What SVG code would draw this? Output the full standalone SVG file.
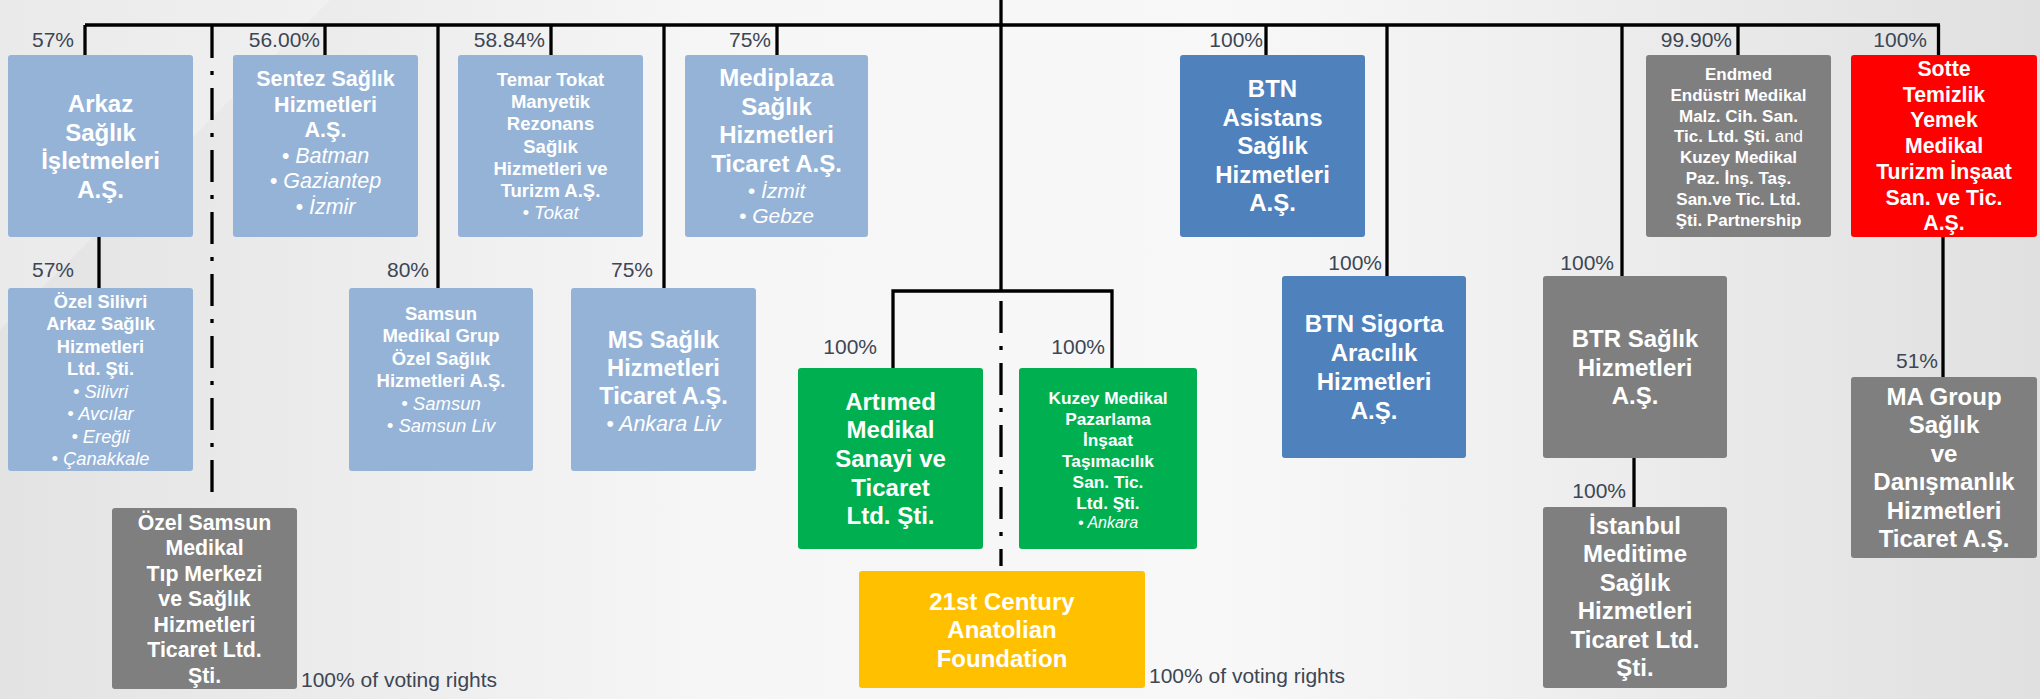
<svg xmlns="http://www.w3.org/2000/svg" width="2040" height="699" viewBox="0 0 2040 699">
<defs>
<linearGradient id="bg" x1="0" y1="0" x2="1" y2="0">
<stop offset="0" stop-color="#e3e3e3"/>
<stop offset="0.35" stop-color="#f6f6f6"/>
<stop offset="0.6" stop-color="#f8f8f8"/>
<stop offset="1" stop-color="#e0e0e0"/>
</linearGradient>
</defs>
<style>
.box{stroke:none}
.lb{fill:#95b3d7}.db{fill:#4f81bd}.gn{fill:#00b050}.yl{fill:#ffc000}.gy{fill:#7f7f7f}.rd{fill:#ff0000}
text{font-family:"Liberation Sans",Arial,sans-serif;fill:#ffffff;text-anchor:middle}
.b{font-weight:bold}
.i{font-style:italic}
.p{fill:#3c4654;font-size:21px;text-anchor:end}
.v{fill:#3c4654;font-size:21px;text-anchor:start}
.c line,.c polyline{stroke:#000;stroke-width:3.3;fill:none}
.c .dd{stroke-dasharray:32 13 4 13}
</style>
<rect x="0" y="0" width="2040" height="699" fill="url(#bg)"/>
<polygon points="0,0 330,0 0,330" fill="#ffffff" opacity="0.25"/>

<g id="connectors" class="c">
<line x1="1001" y1="0" x2="1001" y2="291"/>
<line x1="85" y1="25" x2="1940" y2="25"/>
<line x1="85" y1="25" x2="85" y2="55"/>
<line x1="325" y1="25" x2="325" y2="55"/>
<line x1="551" y1="25" x2="551" y2="55"/>
<line x1="777" y1="25" x2="777" y2="55"/>
<line x1="1266" y1="25" x2="1266" y2="55"/>
<line x1="1738" y1="25" x2="1738" y2="55"/>
<line x1="1938.5" y1="25" x2="1938.5" y2="55"/>
<line x1="438" y1="25" x2="438" y2="288"/>
<line x1="664" y1="25" x2="664" y2="288"/>
<line x1="1387" y1="25" x2="1387" y2="276"/>
<line x1="1622" y1="25" x2="1622" y2="276"/>
<line x1="99" y1="237" x2="99" y2="288"/>
<line x1="1943" y1="237" x2="1943" y2="377"/>
<line x1="1634" y1="458" x2="1634" y2="507"/>
<polyline points="893,368 893,291 1112,291 1112,368"/>
<line class="dd" x1="212" y1="26" x2="212" y2="497"/>
<line class="dd" x1="1001" y1="301" x2="1001" y2="566"/>
</g>

<g id="labels">
<text class="p" x="74" y="47">57%</text>
<text class="p" x="320" y="47">56.00%</text>
<text class="p" x="545" y="47">58.84%</text>
<text class="p" x="771" y="47">75%</text>
<text class="p" x="1263" y="47">100%</text>
<text class="p" x="1732" y="47">99.90%</text>
<text class="p" x="1927" y="47">100%</text>
<text class="p" x="74" y="277">57%</text>
<text class="p" x="429" y="277">80%</text>
<text class="p" x="653" y="277">75%</text>
<text class="p" x="877" y="354">100%</text>
<text class="p" x="1105" y="354">100%</text>
<text class="p" x="1382" y="270">100%</text>
<text class="p" x="1614" y="270">100%</text>
<text class="p" x="1626" y="498">100%</text>
<text class="p" x="1938" y="368">51%</text>
<text class="v" x="301" y="687">100% of voting rights</text>
<text class="v" x="1149" y="683">100% of voting rights</text>
</g>

<g id="arkaz">
<rect class="box lb" x="8" y="55" width="185" height="182" rx="3"/>
<text class="b" font-size="24"><tspan x="100.5" y="112">Arkaz</tspan><tspan x="100.5" y="140.5">Sağlık</tspan><tspan x="100.5" y="169">İşletmeleri</tspan><tspan x="100.5" y="197.5">A.Ş.</tspan></text>
</g>

<g id="sentez">
<rect class="box lb" x="233" y="55" width="185" height="182" rx="3"/>
<text class="b" font-size="21.5"><tspan x="325.5" y="86">Sentez Sağlık</tspan><tspan x="325.5" y="111.5">Hizmetleri</tspan><tspan x="325.5" y="137">A.Ş.</tspan></text>
<text class="i" font-size="21.5"><tspan x="325.5" y="162.5">• Batman</tspan><tspan x="325.5" y="188">• Gaziantep</tspan><tspan x="325.5" y="213.5">• İzmir</tspan></text>
</g>

<g id="temar">
<rect class="box lb" x="458" y="55" width="185" height="182" rx="3"/>
<text class="b" font-size="18.5"><tspan x="550.5" y="86">Temar Tokat</tspan><tspan x="550.5" y="108.2">Manyetik</tspan><tspan x="550.5" y="130.4">Rezonans</tspan><tspan x="550.5" y="152.6">Sağlık</tspan><tspan x="550.5" y="174.8">Hizmetleri ve</tspan><tspan x="550.5" y="197">Turizm A.Ş.</tspan></text>
<text class="i" font-size="18.5"><tspan x="550.5" y="219.2">• Tokat</tspan></text>
</g>

<g id="mediplaza">
<rect class="box lb" x="685" y="55" width="183" height="182" rx="3"/>
<text class="b" font-size="24"><tspan x="776.5" y="86">Mediplaza</tspan><tspan x="776.5" y="114.5">Sağlık</tspan><tspan x="776.5" y="143">Hizmetleri</tspan><tspan x="776.5" y="171.5">Ticaret A.Ş.</tspan></text>
<text class="i" font-size="21"><tspan x="776.5" y="198">• İzmit</tspan><tspan x="776.5" y="223">• Gebze</tspan></text>
</g>

<g id="btn-asistans">
<rect class="box db" x="1180" y="55" width="185" height="182" rx="3"/>
<text class="b" font-size="24"><tspan x="1272.5" y="97">BTN</tspan><tspan x="1272.5" y="125.6">Asistans</tspan><tspan x="1272.5" y="154.2">Sağlık</tspan><tspan x="1272.5" y="182.8">Hizmetleri</tspan><tspan x="1272.5" y="211.4">A.Ş.</tspan></text>
</g>

<g id="endmed">
<rect class="box gy" x="1646" y="55" width="185" height="182" rx="3"/>
<text class="b" font-size="17"><tspan x="1738.5" y="80">Endmed</tspan><tspan x="1738.5" y="100.8">Endüstri Medikal</tspan><tspan x="1738.5" y="121.6">Malz. Cih. San.</tspan><tspan x="1738.5" y="142.4">Tic. Ltd. Şti.<tspan font-weight="normal"> and</tspan></tspan><tspan x="1738.5" y="163.2">Kuzey Medikal</tspan><tspan x="1738.5" y="184">Paz. İnş. Taş.</tspan><tspan x="1738.5" y="204.8">San.ve Tic. Ltd.</tspan><tspan x="1738.5" y="225.6">Şti. Partnership</tspan></text>
</g>

<g id="sotte">
<rect class="box rd" x="1851" y="55" width="186" height="182" rx="3"/>
<text class="b" font-size="21.3"><tspan x="1944" y="76">Sotte</tspan><tspan x="1944" y="101.7">Temizlik</tspan><tspan x="1944" y="127.4">Yemek</tspan><tspan x="1944" y="153.1">Medikal</tspan><tspan x="1944" y="178.8">Turizm İnşaat</tspan><tspan x="1944" y="204.5">San. ve Tic.</tspan><tspan x="1944" y="230.2">A.Ş.</tspan></text>
</g>

<g id="ozel-silivri">
<rect class="box lb" x="8" y="288" width="185" height="183" rx="3"/>
<text class="b" font-size="18.3"><tspan x="100.5" y="307.5">Özel Silivri</tspan><tspan x="100.5" y="330">Arkaz Sağlık</tspan><tspan x="100.5" y="352.5">Hizmetleri</tspan><tspan x="100.5" y="375">Ltd. Şti.</tspan></text>
<text class="i" font-size="18.3"><tspan x="100.5" y="397.5">• Silivri</tspan><tspan x="100.5" y="420">• Avcılar</tspan><tspan x="100.5" y="442.5">• Ereğli</tspan><tspan x="100.5" y="465">• Çanakkale</tspan></text>
</g>

<g id="samsun-medikal-grup">
<rect class="box lb" x="349" y="288" width="184" height="183" rx="3"/>
<text class="b" font-size="18.5"><tspan x="441" y="319.5">Samsun</tspan><tspan x="441" y="342">Medikal Grup</tspan><tspan x="441" y="364.5">Özel Sağlık</tspan><tspan x="441" y="387">Hizmetleri A.Ş.</tspan></text>
<text class="i" font-size="18.5"><tspan x="441" y="409.5">• Samsun</tspan><tspan x="441" y="432">• Samsun Liv</tspan></text>
</g>

<g id="ms-saglik">
<rect class="box lb" x="571" y="288" width="185" height="183" rx="3"/>
<text class="b" font-size="23.6"><tspan x="663.5" y="347.5">MS Sağlık</tspan><tspan x="663.5" y="375.5">Hizmetleri</tspan><tspan x="663.5" y="403.5">Ticaret A.Ş.</tspan></text>
<text class="i" font-size="21.5"><tspan x="663.5" y="431">• Ankara Liv</tspan></text>
</g>

<g id="artimed">
<rect class="box gn" x="798" y="368" width="185" height="181" rx="3"/>
<text class="b" font-size="24"><tspan x="890.5" y="409.5">Artımed</tspan><tspan x="890.5" y="438.2">Medikal</tspan><tspan x="890.5" y="466.9">Sanayi ve</tspan><tspan x="890.5" y="495.6">Ticaret</tspan><tspan x="890.5" y="524.3">Ltd. Şti.</tspan></text>
</g>

<g id="kuzey-medikal">
<rect class="box gn" x="1019" y="368" width="178" height="181" rx="3"/>
<text class="b" font-size="17.3"><tspan x="1108" y="403.5">Kuzey Medikal</tspan><tspan x="1108" y="424.5">Pazarlama</tspan><tspan x="1108" y="445.5">İnşaat</tspan><tspan x="1108" y="466.5">Taşımacılık</tspan><tspan x="1108" y="487.5">San. Tic.</tspan><tspan x="1108" y="508.5">Ltd. Şti.</tspan></text>
<text class="i" font-size="16"><tspan x="1108" y="527.5">• Ankara</tspan></text>
</g>

<g id="foundation">
<rect class="box yl" x="859" y="571" width="286" height="117" rx="3"/>
<text class="b" font-size="24"><tspan x="1002" y="610">21st Century</tspan><tspan x="1002" y="638.3">Anatolian</tspan><tspan x="1002" y="666.6">Foundation</tspan></text>
</g>

<g id="btn-sigorta">
<rect class="box db" x="1282" y="276" width="184" height="182" rx="3"/>
<text class="b" font-size="24"><tspan x="1374" y="332">BTN Sigorta</tspan><tspan x="1374" y="361">Aracılık</tspan><tspan x="1374" y="390">Hizmetleri</tspan><tspan x="1374" y="419">A.Ş.</tspan></text>
</g>

<g id="btr">
<rect class="box gy" x="1543" y="276" width="184" height="182" rx="3"/>
<text class="b" font-size="24"><tspan x="1635" y="347">BTR Sağlık</tspan><tspan x="1635" y="375.6">Hizmetleri</tspan><tspan x="1635" y="404.2">A.Ş.</tspan></text>
</g>

<g id="istanbul-meditime">
<rect class="box gy" x="1543" y="507" width="184" height="181" rx="3"/>
<text class="b" font-size="24"><tspan x="1635" y="533.5">İstanbul</tspan><tspan x="1635" y="562">Meditime</tspan><tspan x="1635" y="590.5">Sağlık</tspan><tspan x="1635" y="619">Hizmetleri</tspan><tspan x="1635" y="647.5">Ticaret Ltd.</tspan><tspan x="1635" y="676">Şti.</tspan></text>
</g>

<g id="ma-group">
<rect class="box gy" x="1851" y="377" width="186" height="181" rx="3"/>
<text class="b" font-size="24"><tspan x="1944" y="404.5">MA Group</tspan><tspan x="1944" y="433">Sağlık</tspan><tspan x="1944" y="461.5">ve</tspan><tspan x="1944" y="490">Danışmanlık</tspan><tspan x="1944" y="518.5">Hizmetleri</tspan><tspan x="1944" y="547">Ticaret A.Ş.</tspan></text>
</g>

<g id="ozel-samsun">
<rect class="box gy" x="112" y="508" width="185" height="181" rx="3"/>
<text class="b" font-size="21.3"><tspan x="204.5" y="529.5">Özel Samsun</tspan><tspan x="204.5" y="555">Medikal</tspan><tspan x="204.5" y="580.5">Tıp Merkezi</tspan><tspan x="204.5" y="606">ve Sağlık</tspan><tspan x="204.5" y="631.5">Hizmetleri</tspan><tspan x="204.5" y="657">Ticaret Ltd.</tspan><tspan x="204.5" y="682.5">Şti.</tspan></text>
</g>
</svg>
